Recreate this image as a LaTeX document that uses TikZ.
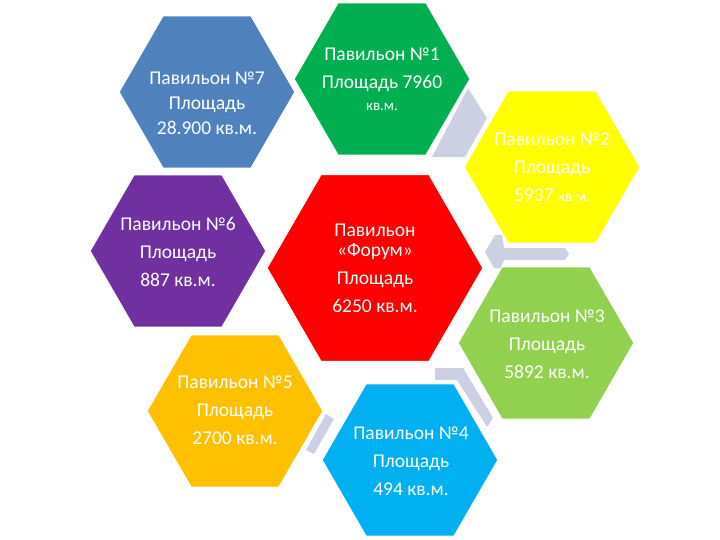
\documentclass[tikz,border=0pt]{standalone}
\usepackage{fontspec}
\setmainfont{Carlito}
\usetikzlibrary{shapes.geometric}
\definecolor{hblue}{HTML}{4F81BD}
\definecolor{hgreen}{HTML}{00B050}
\definecolor{hyellow}{HTML}{FFFF00}
\definecolor{hpurple}{HTML}{7030A0}
\definecolor{hred}{HTML}{FF0000}
\definecolor{horange}{HTML}{FFC000}
\definecolor{hcyan}{HTML}{00B0F0}
\definecolor{hlgreen}{HTML}{92D050}
\definecolor{greyc}{HTML}{CBD1E2}
\begin{document}
\begin{tikzpicture}[x=1pt,y=-1pt,
  hexa/.style={regular polygon, regular polygon sides=6, minimum size=176pt,
    inner sep=0pt, outer sep=0pt, draw=white, line width=1.2pt},
  lbl/.style={text=white, align=center, inner sep=0pt,
    font=\fontsize{19.5}{28}\selectfont},
  conn/.style={fill=greyc, draw=none}]
\useasboundingbox (0,0) rectangle (720,540);

% grey connector pieces
\fill[conn] (468,88) -- (487,118) -- (465,157) -- (432,157) -- cycle;
\fill[conn] (495,235) -- (502,235) -- (504,248) -- (565,248) -- (569,254)
  -- (565,260) -- (504,260) -- (501,268) -- (494,268) -- (485,252) -- cycle;
\fill[conn] (435,368) -- (463,368) -- (493,418) -- (487,427) -- (457,380)
  -- (435,380) -- cycle;
\fill[conn] (326,414) -- (334,419) -- (314,454) -- (306,450) -- cycle;

% hexagons
\node[hexa, fill=hblue] (h7) at (207,92) {};
\node[hexa, fill=hgreen] (h1) at (382,79) {};
\node[hexa, fill=hyellow] (h2) at (552,167) {};
\node[hexa, fill=hpurple] (h6) at (178,251) {};
\node[hexa, fill=hred, minimum size=216pt] (hf) at (375,268) {};
\node[hexa, fill=hlgreen] (h3) at (546,343) {};
\node[hexa, fill=horange] (h5) at (235,411) {};
\node[hexa, fill=hcyan] (h4) at (410,460) {};

% labels
\node[lbl, font=\fontsize{19.5}{25}\selectfont] (t7) at (207,103)
  {Павильон №7\\Площадь\\28.900 кв.м.};
\node[lbl] (t1) at (382,79)
  {Павильон №1\\Площадь 7960\\[-6pt]{\fontsize{15}{18}\selectfont кв.м.}};
\node[lbl] (t2) at (552,167)
  {Павильон №2\\Площадь\\5937 {\fontsize{15}{18}\selectfont кв.м.}};
\node[lbl] (t6) at (178,252)
  {Павильон №6\\Площадь\\887 кв.м.};
\node[lbl] (tf) at (375,268)
  {Павильон\\[-8pt]«Форум»\\Площадь\\6250 кв.м.};
\node[lbl] (t3) at (547,344)
  {Павильон №3\\Площадь\\5892 кв.м.};
\node[lbl] (t5) at (235,410)
  {Павильон №5\\Площадь\\2700 кв.м.};
\node[lbl] (t4) at (411,461)
  {Павильон №4\\Площадь\\494 кв.м.};
\end{tikzpicture}
\end{document}
